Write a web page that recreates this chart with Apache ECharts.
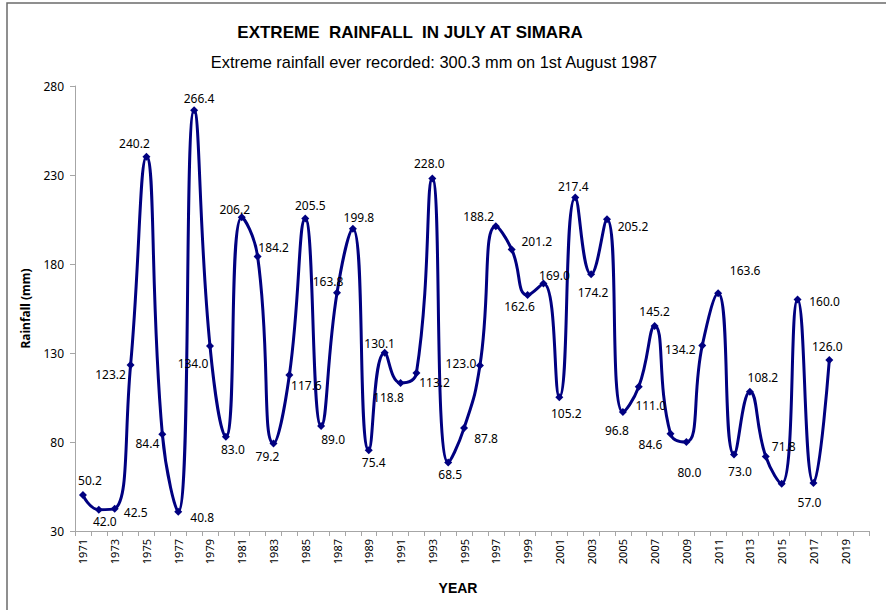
<!DOCTYPE html>
<html>
<head>
<meta charset="utf-8">
<script src="https://cdn.jsdelivr.net/npm/echarts@6/dist/echarts.min.js"></script>
<style>
html,body{margin:0;padding:0;background:#fff;}
#chart{width:886px;height:610px;}
</style>
</head>
<body>
<div id="chart"></div>
<script>
// ---- data ----
var years = [];
for (var y = 1971; y <= 2020; y++) years.push(String(y));
var rainfall = [
  50.2, 42.0, 42.5, 123.2, 240.2, 84.4, 40.8, 266.4, 134.0, 83.0,
  206.2, 184.2, 79.2, 117.6, 205.5, 89.0, 163.8, 199.8, 75.4, 130.1,
  113.2, 118.8, 228.0, 68.5, 87.8, 123.0, 201.2, 188.2, 162.6, 169.0,
  105.2, 217.4, 174.2, 205.2, 96.8, 111.0, 145.2, 84.6, 80.0, 134.2,
  163.6, 73.0, 108.2, 71.8, 56.5, 160.0, 57.0, 126.0
];
var unlabeled = ['2015'];
var titleText = 'EXTREME  RAINFALL  IN JULY AT SIMARA';
var subtitleText = 'Extreme rainfall ever recorded: 300.3 mm on 1st August 1987';
var yTicks = { min: 30, max: 280, interval: 50 };

// ---- label placement (style only) ----
var labelOffsets = [
  [7,-15],[6,12],[21,4],[-20,9],[-12,-13],[-15,9],[24,6],[5,-12],[-17,18],[7,13],
  [-7,-8],[16,-9],[-6,13],[17,10],[5,-13],[12,14],[-9,-11],[6,-11],[5,12],[-5,-9],
  [34,0],[-28,25],[-3,-15],[2,12],[22,10],[-19,-2],[41,15],[-33,-33],[-8,12],[11,-8],
  [7,16],[-2,-11],[2,18],[26,7],[-6,18],[12,19],[0,-14],[-20,11],[3,30],[-22,4],
  [27,-23],[6,17],[13,-14],[18,-10],[0,0],[27,2],[-4,20],[-2,-14]
];

var seriesData = rainfall.map(function (v, i) {
  var yr = years[i];
  return {
    value: v,
    label: {
      show: unlabeled.indexOf(yr) < 0,
      position: 'inside',
      offset: labelOffsets[i]
    }
  };
});

var chart = echarts.init(document.getElementById('chart'), null, { renderer: 'svg' });
chart.setOption({
  animation: false,
  backgroundColor: '#ffffff',
  title: [
    {
      text: titleText, left: 405, top: 19, textAlign: 'center',
      textStyle: { fontFamily: 'Liberation Sans, Arial', fontWeight: 'bold', fontSize: 17, color: '#000' }
    },
    {
      text: subtitleText, left: 429, top: 49, textAlign: 'center',
      textStyle: { fontFamily: 'Liberation Sans, Arial', fontWeight: 'normal', fontSize: 16.4, color: '#000' }
    }
  ],
  graphic: [
    { type: 'rect', shape: { x: 7, y: 3, width: 900, height: 640 }, style: { fill: 'none', stroke: '#6b6b6b', lineWidth: 1.5 }, silent: true, z: -10 }
  ],
  grid: { left: 75, right: 17, top: 86, bottom: 79, containLabel: false },
  xAxis: {
    type: 'category',
    data: years,
    boundaryGap: true,
    name: 'YEAR',
    nameLocation: 'middle',
    nameGap: 50,
    nameTextStyle: { fontFamily: 'Liberation Sans, Arial', fontWeight: 'bold', fontSize: 14, color: '#000', padding: [0, 28, 0, 0] },
    axisLine: { lineStyle: { color: '#a6a6a6', width: 1 } },
    axisTick: { show: true, interval: 0, length: 5, lineStyle: { color: '#a6a6a6' } },
    axisLabel: { interval: 1, rotate: 90, fontFamily: 'Noto Sans, Open Sans, sans-serif', fontSize: 11, color: '#000', margin: 8 },
    splitLine: { show: false }
  },
  yAxis: {
    type: 'value',
    min: yTicks.min, max: yTicks.max, interval: yTicks.interval,
    name: 'Rainfall (mm)',
    nameLocation: 'middle',
    nameGap: 44,
    nameTextStyle: { fontFamily: 'Noto Sans, Open Sans, sans-serif', fontWeight: 'bold', fontSize: 12, color: '#000' },
    axisLine: { show: true, lineStyle: { color: '#a6a6a6', width: 1 } },
    axisTick: { show: true, length: 5, lineStyle: { color: '#a6a6a6' } },
    axisLabel: { fontFamily: 'Noto Sans, Open Sans, sans-serif', fontSize: 12, color: '#000', margin: 11 },
    splitLine: { show: false }
  },
  series: [{
    type: 'line',
    data: seriesData,
    smooth: 0.5,
    symbol: 'diamond',
    symbolSize: 8,
    itemStyle: { color: '#000080' },
    lineStyle: { color: '#000080', width: 3 },
    label: {
      fontFamily: 'Noto Sans, Open Sans, sans-serif', fontSize: 12, color: '#000',
      align: 'center', verticalAlign: 'middle',
      formatter: function (p) { return p.value.toFixed(1); }
    }
  }]
});
</script>
</body>
</html>
